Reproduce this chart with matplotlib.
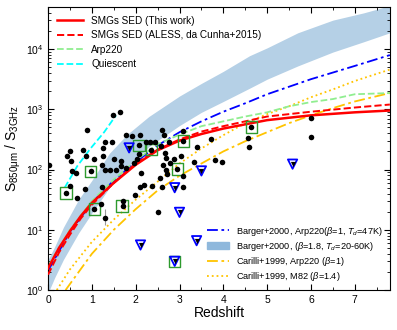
import matplotlib
matplotlib.use("Agg")
import matplotlib.pyplot as plt
import numpy as np
from matplotlib.patches import Patch
from matplotlib.lines import Line2D

plt.rcParams["font.family"] = ["Liberation Sans", "DejaVu Sans"]
plt.rcParams["mathtext.fontset"] = "custom"
plt.rcParams["mathtext.rm"] = "Liberation Sans"
plt.rcParams["mathtext.it"] = "Liberation Sans:italic"

# --- model curves (redshift, S850/S3GHz) ---
red_z = [0, 0.25, 0.5, 0.75, 1, 1.5, 2, 2.5, 3, 3.5, 4, 5, 6, 7, 7.8]
red_s = [2.3, 5.0, 9.5, 17, 28, 60, 120, 209, 302, 389, 479, 661, 794, 891, 955]
aless_s = [1.8, 4.2, 8.3, 15.5, 26, 60, 126, 214, 316, 427, 525, 759, 912, 1070, 1200]

arp_z = [0, 0.5, 1, 1.5, 2, 2.5, 3, 3.5, 4, 4.5, 5, 5.5, 6, 6.5, 7, 7.8]
arp_s = [2.5, 10, 30, 68, 141, 263, 380, 525, 631, 759, 891, 1122, 1318, 1479, 1778, 1862]

qui_z = [0.38, 0.67, 0.97, 1.28, 1.55]
qui_s = [50, 115, 224, 417, 794]

barger_z = [0, 0.5, 1, 1.5, 2, 2.5, 3, 3.5, 4, 4.5, 5, 6, 7, 7.8]
barger_s = [2.1, 9.3, 28, 66, 132, 251, 417, 631, 912, 1259, 1778, 3162, 5248, 7943]

band_z = [0, 0.15, 0.35, 0.7, 1, 1.4, 1.8, 2.3, 3, 3.5, 4, 4.6, 5, 5.7, 6.5, 7.2, 7.8]
band_hi = [3.2, 5.2, 11, 32, 66, 186, 380, 759, 1660, 2692, 4266, 7762, 10470, 18620, 30200, 39810, 52480]
band_lo = [0.89, 1.6, 3.2, 8.9, 19, 50, 107, 240, 537, 891, 1349, 2239, 3162, 5248, 8913, 13180, 18620]

car_arp_z = [0.4, 1, 1.5, 2, 2.5, 3, 3.5, 4, 4.5, 5, 5.5, 6, 6.5, 7, 7.8]
car_arp_s = [1, 4, 10, 22, 45, 79, 126, 200, 295, 417, 589, 794, 1047, 1349, 1862]

car_m82_z = [0.2, 0.5, 1, 1.5, 2, 2.5, 3, 3.5, 4, 4.5, 5, 5.5, 6, 6.5, 7, 7.8]
car_m82_s = [1, 2.2, 6.3, 14.8, 31.6, 63, 126, 224, 372, 589, 832, 1122, 1585, 2138, 2951, 4571]

# --- sources ---
dot_z = [0.02, 0.90, 1.49, 1.64, 0.50, 0.43, 0.52, 0.80, 0.86, 0.54, 0.64, 0.97,
         1.30, 1.45, 1.26, 1.05, 1.24, 1.31, 1.41, 1.54, 1.66, 1.77, 1.50, 1.66,
         1.79, 1.91, 2.10, 2.08, 2.23, 2.33, 2.36, 2.44, 2.61, 2.65, 2.57, 2.76,
         3.09, 3.09, 2.08, 2.04, 2.66, 2.69, 2.78, 2.87, 3.03, 3.32, 3.39, 3.73,
         3.80, 3.96, 2.95, 3.09, 2.63, 2.69, 2.72, 2.56, 2.11, 4.64, 4.56, 4.59,
         6.00, 6.00, 0.40, 0.50, 0.67, 0.84, 1.24, 1.06, 1.20, 1.29, 1.70, 1.70,
         1.98, 2.10, 2.18, 2.38, 2.61, 2.51, 3.09, 1.26, 1.96]
dot_s = [120, 447, 794, 891, 200, 166, 141, 209, 170, 93, 87, 93,
         282, 282, 229, 148, 117, 98, 98, 100, 115, 105, 148, 138,
         372, 355, 380, 251, 288, 288, 214, 288, 457, 380, 245, 282,
         437, 295, 178, 148, 191, 155, 129, 148, 166, 132, 240, 324,
         145, 135, 102, 78, 120, 100, 85, 72, 87, 513, 339, 234,
         724, 347, 41, 54, 34, 47, 52, 22, 27, 16, 25, 30,
         38, 51, 56, 54, 51, 19.5, 52, 166, 129]

box_z = [0.41, 0.97, 1.06, 1.69, 2.08, 2.36, 3.09, 2.95, 2.89, 4.64]
box_s = [41, 93, 22, 25, 251, 214, 295, 102, 3.0, 513]

lim_z = [1.85, 2.89, 3.0, 3.5, 2.11, 3.39, 2.89, 5.58]
lim_s = [229, 50, 19.5, 95, 5.6, 6.6, 3.0, 123]

err_z = [1.29, 0.80]
err_s = [16, 209]
err_lo = [4, 15]
err_hi = [6, 20]

gold = "#ffc400"
dashdot = (6, 2, 1.5, 2)

fig = plt.figure(figsize=(3.97, 3.30), dpi=100)
ax = fig.add_axes([0.121, 0.121, 0.861, 0.858])

ax.fill_between(band_z, band_lo, band_hi, color="#b5d0e6", lw=0, zorder=1)
ax.plot(car_m82_z, car_m82_s, ls=":", color=gold, lw=1.3, zorder=2)
ax.plot(car_arp_z, car_arp_s, ls="-.", color=gold, lw=1.3, dashes=dashdot, zorder=2)
ax.plot(barger_z, barger_s, ls="-.", color="blue", lw=1.3, dashes=dashdot, zorder=2)
ax.plot(arp_z, arp_s, ls="--", color="#90ee90", lw=1.3, zorder=2)
ax.plot(qui_z, qui_s, ls="--", color="cyan", lw=1.3, zorder=2)
ax.plot(red_z, aless_s, ls="--", color="red", lw=1.4, zorder=3)
ax.plot(red_z, red_s, ls="-", color="red", lw=1.8, zorder=3)

ax.errorbar(err_z, err_s, yerr=[err_lo, err_hi], fmt="none", ecolor="0.6", lw=0.8, zorder=3)
ax.scatter(dot_z, dot_s, s=16, color="black", zorder=5, lw=0)
ax.scatter(box_z, box_s, s=70, marker="s", facecolor="none", edgecolor="#2e9a2e", lw=1.0, zorder=4)
ax.scatter(lim_z, lim_s, s=45, marker="v", facecolor="none", edgecolor="blue", lw=1.3, zorder=4)
ax.scatter(lim_z, lim_s, s=14, marker="v", color="black", lw=0, zorder=5)

ax.set_yscale("log")
ax.set_xlim(0, 7.8)
ax.set_ylim(1, 5e4)
ax.set_xticks(range(8))
ax.set_xticks(np.arange(0.5, 8, 1), minor=True)
ax.tick_params(which="both", direction="in", top=True, right=True, labelsize=7.5)
ax.tick_params(which="major", length=4)
ax.tick_params(which="minor", length=2)
ax.set_xlabel("Redshift", fontsize=10, labelpad=1)
ax.set_ylabel(r"S$_{\rm 850\mu m}$ / S$_{\rm 3GHz}$", fontsize=10, labelpad=2)

h1 = [Line2D([], [], color="red", lw=1.8),
      Line2D([], [], color="red", lw=1.4, ls="--"),
      Line2D([], [], color="#90ee90", lw=1.3, ls="--"),
      Line2D([], [], color="cyan", lw=1.3, ls="--")]
l1 = ["SMGs SED (This work)", "SMGs SED (ALESS, da Cunha+2015)", "Arp220", "Quiescent"]
leg1 = ax.legend(h1, l1, loc="upper left", fontsize=7.2, frameon=False,
                 handlelength=2.6, labelspacing=0.45, borderaxespad=0.5)
ax.add_artist(leg1)

h2 = [Line2D([], [], color="blue", lw=1.3, ls="-.", dashes=dashdot),
      Patch(color="#8fb8dc"),
      Line2D([], [], color=gold, lw=1.3, ls="-.", dashes=dashdot),
      Line2D([], [], color=gold, lw=1.3, ls=":")]
l2 = [r"Barger+2000, Arp220($\beta$=1, $T_d$=47K)",
      r"Barger+2000, ($\beta$=1.8, $T_d$=20-60K)",
      r"Carilli+1999, Arp220 ($\beta$=1)",
      r"Carilli+1999, M82 ($\beta$=1.4)"]
ax.legend(h2, l2, loc="lower right", fontsize=6.6, frameon=False,
          handlelength=2.4, labelspacing=0.22, borderaxespad=0.4)

fig.savefig("out.png", dpi=100)
